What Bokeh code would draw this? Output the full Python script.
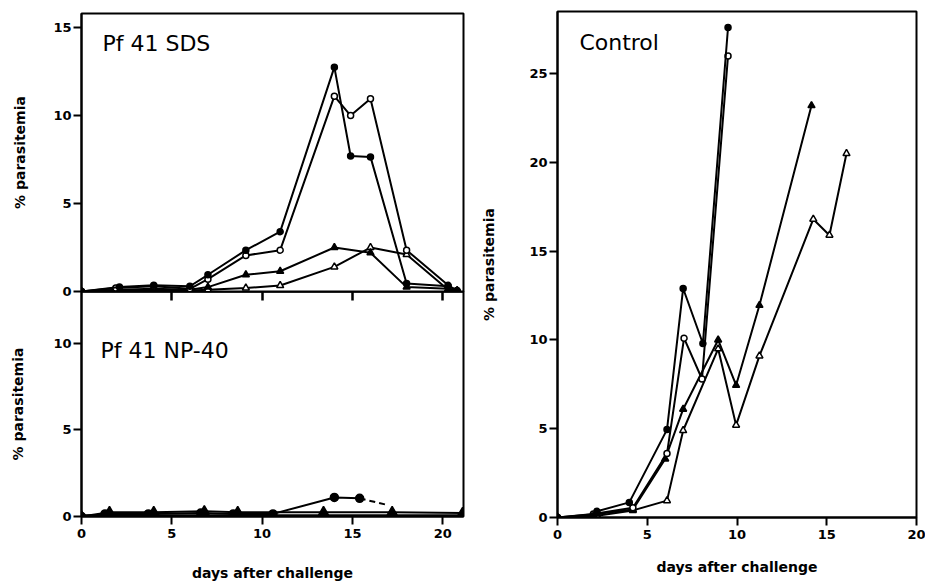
from bokeh.plotting import figure
from bokeh.layouts import row, column
from bokeh.models import FixedTicker, Label, Range1d, LinearAxis
from bokeh.embed import file_html
from bokeh.resources import INLINE

# ---------------- data ----------------
# Pf 41 SDS (top left)
sds_fc_days = [0, 2.1, 4.0, 6.0, 7.0, 9.1, 11.0, 14.0, 14.9, 16.0, 18.0, 20.3, 20.8]
sds_fc_vals = [0, 0.25, 0.35, 0.3, 0.95, 2.35, 3.4, 12.75, 7.7, 7.65, 0.45, 0.3, 0.05]
sds_oc_days = [0, 1.9, 4.0, 6.0, 7.0, 9.1, 11.0, 14.0, 14.9, 16.0, 18.0, 20.3, 20.8]
sds_oc_vals = [0, 0.2, 0.3, 0.15, 0.7, 2.05, 2.35, 11.1, 10.0, 10.95, 2.35, 0.35, 0.05]
sds_ft_days = [0, 2.0, 4.0, 6.0, 7.0, 9.1, 11.0, 14.0, 16.0, 18.0, 20.3, 20.8]
sds_ft_vals = [0, 0.1, 0.15, 0.1, 0.25, 0.95, 1.15, 2.5, 2.2, 0.25, 0.15, 0.05]
sds_ot_days = [0, 2.0, 4.0, 6.0, 7.0, 9.1, 11.0, 14.0, 16.0, 18.0, 20.3, 20.8]
sds_ot_vals = [0, 0.05, 0.1, 0.05, 0.1, 0.2, 0.34, 1.4, 2.5, 2.1, 0.1, 0.05]

# Pf 41 NP-40 (bottom left)
np_fc_days = [0, 1.3, 3.7, 6.6, 8.4, 10.6, 14.0, 15.4]
np_fc_vals = [0, 0.15, 0.15, 0.2, 0.15, 0.15, 1.1, 1.05]
np_dash_days = [15.4, 16.8]
np_dash_vals = [1.05, 0.7]
np_ft_days = [0, 1.55, 4.0, 6.8, 8.65, 13.4, 17.2, 21.1]
np_ft_vals = [0, 0.25, 0.25, 0.3, 0.25, 0.25, 0.25, 0.2]
np_flat_days = [0, 21.2]
np_flat_vals = [0.05, 0.05]

# Control (right)
ct_fc_days = [0, 2.0, 2.2, 4.0, 6.1, 7.0, 8.1, 9.5]
ct_fc_vals = [0, 0.1, 0.35, 0.85, 4.95, 12.9, 9.8, 27.6]
ct_oc_days = [0, 2.0, 4.2, 6.1, 7.05, 8.05, 9.5]
ct_oc_vals = [0, 0.2, 0.55, 3.6, 10.1, 7.8, 26.0]
ct_ft_days = [0, 2.2, 4.2, 6.0, 7.0, 8.95, 9.95, 11.25, 14.15]
ct_ft_vals = [0, 0.2, 0.45, 3.3, 6.1, 10.0, 7.45, 11.95, 23.2]
ct_ot_days = [0, 2.2, 4.2, 6.1, 7.0, 8.95, 9.95, 11.25, 14.25, 15.15, 16.1]
ct_ot_vals = [0, 0.1, 0.4, 0.95, 4.9, 9.5, 5.2, 9.1, 16.8, 15.9, 20.5]

left_x_ticks = [0, 5, 10, 15, 20]
sds_x_ticks = [5, 10, 15, 20]
sds_y_ticks = [0, 5, 10, 15]
np_y_ticks = [0, 5, 10]
ct_x_ticks = [0, 5, 10, 15, 20]
ct_y_ticks = [0, 5, 10, 15, 20, 25]

FONT = "DejaVu Sans"
TICK_SIZE = "13px"
LABEL_SIZE = "14px"


def style_axis(ax, standoff=2):
    ax.axis_line_color = "black"
    ax.axis_line_width = 2
    ax.major_tick_line_color = "black"
    ax.major_tick_line_width = 2
    ax.major_tick_out = 8
    ax.major_tick_in = 0
    ax.minor_tick_line_color = None
    ax.major_label_text_font = FONT
    ax.major_label_text_font_size = TICK_SIZE
    ax.major_label_text_font_style = "bold"
    ax.major_label_text_color = "black"
    ax.major_label_standoff = standoff
    ax.axis_label_text_font = FONT
    ax.axis_label_text_font_size = LABEL_SIZE
    ax.axis_label_text_font_style = "bold"
    ax.axis_label_text_color = "black"


def style_fig(p, transparent=False):
    p.outline_line_color = "black"
    p.outline_line_width = 2
    p.outline_line_alpha = 1
    p.background_fill_color = "white"
    p.border_fill_color = "white"
    if transparent:
        p.background_fill_alpha = 0
        p.border_fill_alpha = 0
    p.xgrid.visible = False
    p.ygrid.visible = False


def series(p, xs, ys, marker, filled, size, dash="solid", markers=True, width=2):
    p.line(xs, ys, line_color="black", line_width=width, line_dash=dash)
    if markers:
        p.scatter(xs, ys, marker=marker, size=size,
                  fill_color="black" if filled else "white",
                  line_color="black", line_width=1.5)


def title(p, x, y, text):
    p.add_layout(Label(x=x, y=y, text=text, text_font=FONT,
                       text_font_size="22px", text_color="black",
                       text_baseline="alphabetic"))


# ---------------- top left: Pf 41 SDS ----------------
p1 = figure(width=478, height=301, output_backend="svg", toolbar_location=None,
            x_range=Range1d(0, 21.15), y_range=Range1d(0, 15.8),
            min_border_left=81, min_border_right=15, min_border_top=13, min_border_bottom=10)
style_fig(p1)
p1.xaxis.visible = False
p1.yaxis.ticker = FixedTicker(ticks=sds_y_ticks)
p1.yaxis.axis_label = "% parasitemia"
p1.yaxis.axis_label_standoff = 22
for ax in p1.yaxis:
    style_axis(ax)
series(p1, sds_ot_days, sds_ot_vals, "triangle", False, 7)
series(p1, sds_ft_days, sds_ft_vals, "triangle", True, 7)
series(p1, sds_oc_days, sds_oc_vals, "circle", False, 6)
series(p1, sds_fc_days, sds_fc_vals, "circle", True, 6)
title(p1, 1.16, 14.09, "Pf 41 SDS")

# ---------------- bottom left: Pf 41 NP-40 ----------------
p2 = figure(width=478, height=294, output_backend="svg", toolbar_location=None,
            x_range=Range1d(0, 21.15), y_range=Range1d(0, 13.0),
            min_border_left=81, min_border_right=15, min_border_top=0, min_border_bottom=69,
            margin=(-10, 0, 0, 0))
style_fig(p2, transparent=True)
p2.xaxis.ticker = FixedTicker(ticks=left_x_ticks)
p2.xaxis.axis_label = "days after challenge"
p2.xaxis.axis_label_standoff = 24
p2.yaxis.ticker = FixedTicker(ticks=np_y_ticks)
p2.yaxis.axis_label = "% parasitemia"
p2.yaxis.axis_label_standoff = 24
for ax in p2.axis:
    style_axis(ax)
p2.xaxis.major_label_standoff = 4
# day ticks of the upper panel, drawn as the top axis of this panel, pointing down
top_ticks = LinearAxis(ticker=FixedTicker(ticks=sds_x_ticks))
style_axis(top_ticks, standoff=0)
top_ticks.axis_line_color = "black"
top_ticks.major_tick_out = 0
top_ticks.major_tick_in = 9
top_ticks.major_tick_line_width = 2.5
top_ticks.major_label_text_font_size = "1px"
top_ticks.major_label_text_alpha = 0
p2.add_layout(top_ticks, "above")
series(p2, np_flat_days, np_flat_vals, "circle", True, 7, markers=False, width=3)
series(p2, np_ft_days, np_ft_vals, "triangle", True, 10)
series(p2, np_fc_days, np_fc_vals, "circle", True, 8)
series(p2, np_dash_days, np_dash_vals, "circle", True, 6, dash="6 4", markers=False)
title(p2, 1.05, 9.59, "Pf 41 NP-40")

# ---------------- right: Control ----------------
p3 = figure(width=447, height=585, output_backend="svg", toolbar_location=None,
            x_range=Range1d(0, 20), y_range=Range1d(0, 28.5),
            min_border_left=77, min_border_right=9, min_border_top=11, min_border_bottom=68)
style_fig(p3)
p3.xaxis.ticker = FixedTicker(ticks=ct_x_ticks)
p3.yaxis.ticker = FixedTicker(ticks=ct_y_ticks)
p3.xaxis.axis_label = "days after challenge"
p3.xaxis.axis_label_standoff = 17
p3.yaxis.axis_label = "% parasitemia"
p3.yaxis.axis_label_standoff = 29
for ax in p3.axis:
    style_axis(ax)
p3.xaxis.major_label_standoff = 4
series(p3, ct_ot_days, ct_ot_vals, "triangle", False, 7)
series(p3, ct_ft_days, ct_ft_vals, "triangle", True, 7)
series(p3, ct_oc_days, ct_oc_vals, "circle", False, 6)
series(p3, ct_fc_days, ct_fc_vals, "circle", True, 6)
title(p3, 1.22, 26.76, "Control")

layout = row(column(p1, p2), p3)
open("out.html", "w").write(file_html(layout, INLINE))
